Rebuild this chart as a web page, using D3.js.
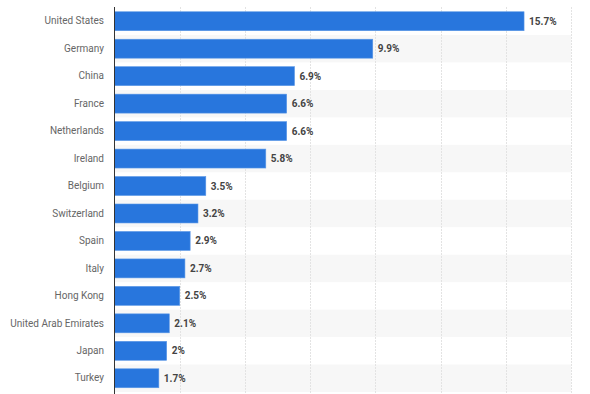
<!DOCTYPE html>
<html><head><meta charset="utf-8">
<script src="https://cdn.jsdelivr.net/npm/d3@7"></script>
<style>body{margin:0;background:#fff;}svg{display:block;}</style>
</head><body>
<script>
const categories = ["United States","Germany","China","France","Netherlands","Ireland","Belgium","Switzerland","Spain","Italy","Hong Kong","United Arab Emirates","Japan","Turkey"];
const values = [15.7,9.9,6.9,6.6,6.6,5.8,3.5,3.2,2.9,2.7,2.5,2.1,2,1.7];
const labels = ["15.7%","9.9%","6.9%","6.6%","6.6%","5.8%","3.5%","3.2%","2.9%","2.7%","2.5%","2.1%","2%","1.7%"];
const ticks = [0,2.5,5,7.5,10,12.5,15,17.5];

const W=590,H=394;
const svg=d3.select("body").append("svg").attr("width",W).attr("height",H);
const x=d3.scaleLinear().domain([0,17.5]).range([114.5,571]);
const y=d3.scaleBand().domain(categories).range([7.5,392]).paddingInner(0.31).paddingOuter(0.155);
const yRow=d3.scaleBand().domain(categories).range([7.5,392]);

// stripes
svg.append("g").selectAll("rect").data(categories.filter((d,i)=>i%2===1)).join("rect")
  .attr("x",x(0)).attr("width",x(17.5)-x(0))
  .attr("y",d=>yRow(d)).attr("height",yRow.bandwidth()).attr("fill","#f7f7f7");

// gridlines
svg.append("g").selectAll("line").data(ticks.slice(1)).join("line")
  .attr("x1",d=>Math.round(x(d))+0.5).attr("x2",d=>Math.round(x(d))+0.5)
  .attr("y1",7).attr("y2",H).attr("stroke","#e3e3e3").attr("stroke-dasharray","2,1");

// bars
svg.append("g").selectAll("rect").data(values).join("rect")
  .attr("x",x(0)).attr("y",(d,i)=>y(categories[i]))
  .attr("width",d=>x(d)-x(0)).attr("height",y.bandwidth())
  .attr("fill","#2876dd").attr("stroke","#5a97e6").attr("stroke-width",0.6);

// axis
const ax=svg.append("g").attr("transform",`translate(${x(0)},0)`)
  .call(d3.axisLeft(y).tickSize(0).tickPadding(10.5));
ax.select(".domain").remove();
ax.selectAll("text").attr("font-family","Roboto, 'Open Sans', sans-serif").attr("font-size","10px").attr("fill","#666");
svg.append("line").attr("x1",114.5).attr("x2",114.5).attr("y1",7).attr("y2",H).attr("stroke","#333").attr("stroke-width",1);

// value labels
svg.append("g").selectAll("text").data(values).join("text")
  .attr("x",d=>x(d)+5).attr("y",(d,i)=>y(categories[i])+y.bandwidth()/2)
  .attr("dy","0.35em").text((d,i)=>labels[i])
  .attr("font-family","Roboto, 'Open Sans', sans-serif").attr("font-size","10px").attr("font-weight","bold").attr("fill","#444");
</script>
</body></html>
